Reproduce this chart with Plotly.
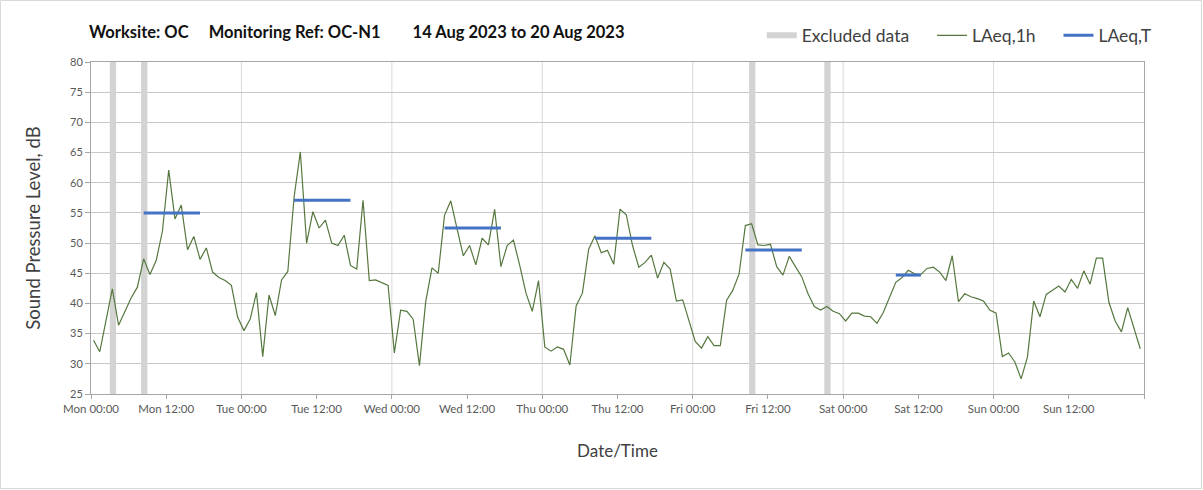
import plotly.graph_objects as go

# Hourly LAeq,1h values (dB), Mon 00:00 .. Sun 23:00 (168 hours)
laeq_1h = [
    33.9, 32.0, 37.2, 42.4, 36.4, 38.8, 40.9, 42.7, 47.4, 44.8, 47.1, 52.0,
    62.1, 54.0, 56.3, 48.9, 51.1, 47.3, 49.2, 45.2, 44.3, 43.8, 43.0, 37.7,
    35.5, 37.4, 41.8, 31.2, 41.4, 38.0, 43.9, 45.3, 57.6, 65.1, 50.0, 55.2,
    52.5, 53.8, 50.0, 49.6, 51.3, 46.3, 45.7, 57.1, 43.8, 43.9, 43.5, 43.0,
    31.8, 38.9, 38.7, 37.4, 29.7, 40.3, 45.9, 45.0, 54.6, 57.0, 52.4, 47.9,
    49.6, 46.4, 50.8, 49.7, 55.6, 46.1, 49.6, 50.5, 46.3, 41.7, 38.7, 43.8,
    32.8, 32.1, 32.8, 32.4, 29.8, 39.6, 41.7, 49.0, 51.2, 48.4, 48.8, 46.5,
    55.6, 54.7, 49.6, 46.0, 46.8, 48.0, 44.2, 46.8, 45.7, 40.4, 40.6, 37.2,
    33.7, 32.6, 34.5, 33.0, 33.0, 40.5, 42.2, 44.9, 52.9, 53.2, 49.7, 49.6,
    49.8, 46.1, 44.7, 47.8, 46.0, 44.4, 41.6, 39.5, 38.9, 39.5, 38.7, 38.3,
    37.1, 38.4, 38.4, 37.9, 37.8, 36.7, 38.5, 41.1, 43.5, 44.3, 45.5, 44.9,
    44.8, 45.8, 46.0, 45.2, 43.8, 47.9, 40.3, 41.6, 41.1, 40.8, 40.4, 38.9,
    38.4, 31.2, 31.8, 30.3, 27.5, 31.1, 40.4, 37.8, 41.5, 42.2, 42.9, 41.9,
    44.0, 42.5, 45.4, 43.2, 47.5, 47.5, 40.2, 37.1, 35.3, 39.3, 36.1, 32.5,
]

# LAeq,T over each daytime period: first hour, last hour, level (dB)
period_start = [8, 32, 56, 80, 104, 128]
period_end = [17, 41, 65, 89, 113, 132]
period_level = [55.0, 57.1, 52.5, 50.8, 48.85, 44.7]

# Hours excluded from the assessment
excluded_hours = [3, 8, 105, 117]

# Axis tick labels every 12 hours
tick_hours = list(range(0, 169, 12))
tick_labels = [
    "Mon 00:00", "Mon 12:00", "Tue 00:00", "Tue 12:00", "Wed 00:00",
    "Wed 12:00", "Thu 00:00", "Thu 12:00", "Fri 00:00", "Fri 12:00",
    "Sat 00:00", "Sat 12:00", "Sun 00:00", "Sun 12:00", "",
]

Y_MIN, Y_MAX = 25, 80
POINT_OFFSET = 0.4  # each hourly sample sits just inside its hour slot
FONT = "Lato"
NB = "\u00a0"

x_1h = [h + POINT_OFFSET for h in range(len(laeq_1h))]

x_t, y_t = [], []
for s, e, v in zip(period_start, period_end, period_level):
    x_t += [s + POINT_OFFSET, e + POINT_OFFSET, None]
    y_t += [v, v, None]

# excluded hours as full-height filled bands
x_ex, y_ex = [], []
for h in excluded_hours:
    x_ex += [h, h + 1, h + 1, h, h, None]
    y_ex += [Y_MIN, Y_MIN, Y_MAX, Y_MAX, Y_MIN, None]

fig = go.Figure()

# legend names padded so the horizontal legend entries are spaced out
fig.add_trace(go.Scatter(
    x=x_ex, y=y_ex, mode="none", fill="toself",
    fillcolor="#d3d3d3",
    name="Excluded data" + NB * 4,
    hoverinfo="skip",
))

fig.add_trace(go.Scatter(
    x=x_1h, y=laeq_1h, mode="lines",
    line=dict(color="#56783f", width=1.2),
    name="LAeq,1h" + NB * 4,
))

fig.add_trace(go.Scatter(
    x=x_t, y=y_t, mode="lines",
    line=dict(color="#4472c4", width=3),
    name="LAeq,T",
))

W, H = 1203, 490
ML, MR, MT, MB = 91, 59, 62, 96
pw, ph = W - ML - MR, H - MT - MB

shapes = []
# vertical gridlines at each midnight
for d in range(24, 168, 24):
    shapes.append(dict(type="line", xref="x", yref="paper", x0=d, x1=d, y0=0, y1=1,
                       line=dict(color="#d9d9d9", width=1), layer="below"))
# outer chart border
shapes.append(dict(type="rect", xref="paper", yref="paper",
                   x0=-ML / pw + 0.0005, x1=1 + (MR - 1.5) / pw,
                   y0=-(MB - 1.5) / ph, y1=1 + (MT - 0.5) / ph,
                   line=dict(color="#d9d9d9", width=1), layer="below"))

title_text = (
    f"<b>Worksite: OC{NB*5}Monitoring Ref: OC-N1{NB*8}14 Aug 2023 to 20 Aug 2023</b>"
)

fig.update_layout(
    width=W, height=H,
    margin=dict(l=ML, r=MR, t=MT, b=MB),
    paper_bgcolor="white", plot_bgcolor="white",
    font=dict(family=FONT, color="#404040"),
    showlegend=True,
    legend=dict(orientation="h", x=0.637, xanchor="left", y=1.08, yanchor="middle",
                font=dict(size=17.5, color="#404040"), bgcolor="rgba(0,0,0,0)",
                itemwidth=30, tracegroupgap=0),
    title=dict(
        text=title_text,
        x=89 / W, xanchor="left", xref="container",
        y=1 - 32 / H, yanchor="middle", yref="container",
        font=dict(size=16.5, color="#111111", family=FONT),
    ),
    xaxis=dict(
        range=[0, 168],
        tickmode="array", tickvals=tick_hours, ticktext=tick_labels,
        ticks="outside", ticklen=4, tickcolor="#a6a6a6",
        tickfont=dict(size=11.5, color="#595959"),
        showgrid=False, zeroline=False,
        showline=True, linecolor="#a6a6a6", linewidth=1, mirror=True,
        title=dict(text="Date/Time", font=dict(size=17, color="#404040"), standoff=31),
    ),
    yaxis=dict(
        range=[Y_MIN, Y_MAX], dtick=5, tick0=25,
        ticks="outside", ticklen=5, tickcolor="#a6a6a6",
        tickfont=dict(size=11, color="#595959"),
        showgrid=True, gridcolor="#c8c8c8", gridwidth=1, zeroline=False,
        showline=True, linecolor="#a6a6a6", linewidth=1, mirror=True,
        title=dict(text="Sound Pressure Level, dB", font=dict(size=18.5, color="#404040"), standoff=24),
    ),
    shapes=shapes,
)

fig.write_html("out.html")
